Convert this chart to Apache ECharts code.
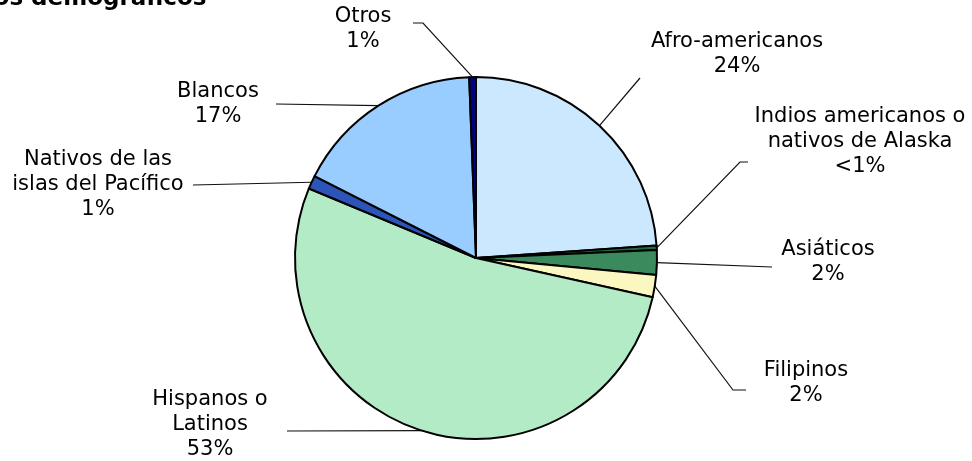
<!DOCTYPE html>
<html>
<head>
<meta charset="utf-8">
<script src="https://cdn.jsdelivr.net/npm/echarts@6/dist/echarts.min.js"></script>
<style>
  html, body { margin: 0; padding: 0; background: #fff; }
  #chart { width: 972px; height: 461px; }
</style>
</head>
<body>
<div id="chart"></div>
<script>
// datos del gráfico
const categories = [
    'Afro-americanos',
    'Indios americanos o\nnativos de Alaska',
    'Asiáticos',
    'Filipinos',
    'Hispanos o\nLatinos',
    'Nativos de las\nislas del Pacífico',
    'Blancos',
    'Otros'
];
const values = [24, 0.4, 2.2, 2, 53, 1.2, 17, 0.6];
const pctLabels = ['24%', '<1%', '2%', '2%', '53%', '1%', '17%', '1%'];
const colors = ['#CCE8FF', '#1E6B3E', '#3A8A5E', '#FAF7C0', '#B3EBC6', '#2B55B8', '#99CCFF', '#000080'];

// posición de cada etiqueta (centro) y extremo de su línea guía
const labelPos = [[737, 54], [860, 142], [828, 262], [806, 383], [210, 425], [98, 185], [218, 104], [363, 29]];
const lineEnd = [[640, 78], [748, 162], [772, 267], [746, 390], [287, 431], [193, 185], [276, 104], [413, 23]];
const lineElbow = [null, [740, 162], null, [733, 390], null, null, null, [423, 23]];

const option = {
    animation: false,
    title: {
        text: 'Datos demográficos',
        left: -57,
        top: -17,
        textStyle: {
            fontFamily: 'DejaVu Sans',
            fontWeight: 'bold',
            fontSize: 23,
            color: '#000'
        }
    },
    series: [{
        type: 'pie',
        center: [476, 258],
        radius: 181,
        startAngle: 90,
        clockwise: true,
        avoidLabelOverlap: false,
        data: categories.map((name, i) => ({
            name: name,
            value: values[i],
            itemStyle: { color: colors[i] }
        })),
        itemStyle: {
            borderColor: '#000',
            borderWidth: 2
        },
        label: {
            show: true,
            formatter: function (p) {
                return p.name + '\n' + pctLabels[p.dataIndex];
            },
            fontFamily: 'DejaVu Sans',
            fontSize: 21,
            lineHeight: 25,
            color: '#000',
            align: 'center'
        },
        labelLine: {
            show: true,
            length: 10,
            length2: 10,
            lineStyle: {
                color: '#111',
                width: 1.2
            }
        },
        labelLayout: function (params) {
            const i = params.dataIndex;
            const anchor = params.labelLinePoints ? params.labelLinePoints[0] : null;
            const pts = [lineEnd[i]];
            if (lineElbow[i]) pts.push(lineElbow[i]);
            if (anchor) pts.push(anchor);
            return {
                x: labelPos[i][0],
                y: labelPos[i][1],
                align: 'center',
                verticalAlign: 'middle',
                labelLinePoints: pts
            };
        }
    }]
};

const myChart = echarts.init(document.getElementById('chart'));
myChart.setOption(option);
window.addEventListener('resize', myChart.resize);
</script>
</body>
</html>
